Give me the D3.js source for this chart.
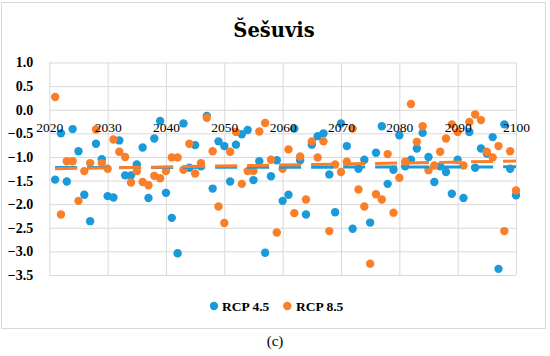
<!DOCTYPE html>
<html><head><meta charset="utf-8">
<script src="https://cdn.jsdelivr.net/npm/d3@7"></script>
<style>
html,body{margin:0;padding:0;background:#fff;}
svg{display:block;}
</style></head>
<body><svg id="c" width="550" height="356"></svg>
<script>
const title = "Šešuvis";
const caption = "(c)";
const seriesNames = ["RCP 4.5", "RCP 8.5"];
const years = d3.range(2021, 2101);
const xTicks = [2020, 2030, 2040, 2050, 2060, 2070, 2080, 2090, 2100];
const yTicks = [1.0, 0.5, 0.0, -0.5, -1.0, -1.5, -2.0, -2.5, -3.0, -3.5];
const rcp45 = [-1.48,-0.50,-1.52,-0.41,-0.88,-1.80,-2.36,-0.72,-1.05,-1.83,
 -1.86,-0.65,-1.39,-1.39,-1.16,-0.80,-1.87,-0.61,-0.24,-1.76,
 -2.29,-3.04,-0.29,-1.23,-0.75,-1.20,-0.13,-1.67,-0.67,-0.77,
 -1.52,-0.74,-0.52,-0.43,-1.49,-1.09,-3.03,-1.41,-1.07,-1.93,
 -1.80,-0.40,-1.07,-2.22,-0.74,-0.56,-0.50,-1.37,-2.17,-0.29,
 -0.77,-2.52,-1.25,-1.06,-2.39,-0.91,-0.35,-1.57,-1.27,-0.54,
 -1.20,-1.06,-0.82,-0.49,-1.00,-1.53,-1.20,-1.32,-1.78,-1.06,
 -1.87,-0.47,-1.23,-0.82,-0.93,-0.58,-3.37,-0.31,-1.25,-1.81];
const rcp85 = [0.27,-2.22,-1.09,-1.09,-1.93,-1.30,-1.13,-0.42,-1.13,-1.25,
 -0.63,-0.89,-1.00,-1.54,-1.30,-1.53,-1.60,-1.40,-1.45,-1.30,
 -1.01,-1.01,-1.27,-0.72,-1.35,-1.13,-0.17,-0.88,-2.05,-2.40,
 -0.89,-0.47,-1.57,-1.30,-1.30,-0.46,-0.28,-1.06,-2.60,-1.25,
 -0.84,-2.19,-0.99,-1.90,-0.67,-1.01,-0.67,-2.57,-1.16,-1.32,
 -1.10,-0.40,-1.69,-2.05,-3.26,-1.79,-1.90,-0.94,-2.18,-1.44,
 -1.10,0.12,-0.68,-0.35,-1.28,-1.18,-0.89,-0.61,-0.31,-0.47,
 -1.18,-0.26,-0.10,-0.22,-0.89,-1.01,-0.77,-2.57,-0.88,-1.71];

const colors = ["#1b9ad9", "#fb7e29"];
const svg = d3.select("#c");
const SERIF = '"Liberation Serif", serif';
const TSERIF = '"DejaVu Serif", "Liberation Serif", serif';

svg.append("rect").attr("x",1.5).attr("y",2.5).attr("width",544).attr("height",326)
  .attr("fill","#fff").attr("stroke","#d9d9d9").attr("stroke-width",1);

const L = 49.3, R = 516, T = 62.5, B = 275;
const x = d3.scaleLinear().domain([2020, 2100]).range([L, R]);
const y = d3.scaleLinear().domain([-3.5, 1]).range([B, T]);

const gridY = svg.append("g").attr("transform",`translate(${L},0)`)
  .call(d3.axisLeft(y).tickValues(yTicks).tickSize(-(R-L)).tickFormat(""));
const gridX = svg.append("g").attr("transform",`translate(0,${B})`)
  .call(d3.axisBottom(x).tickValues(xTicks).tickSize(-(B-T)).tickFormat(""));
[gridX, gridY].forEach(g => {
  g.select(".domain").remove();
  g.selectAll("line").attr("stroke","#d9d9d9").attr("stroke-width",1);
});

const yAx = svg.append("g").attr("transform",`translate(${L},0)`)
  .call(d3.axisLeft(y).tickValues(yTicks).tickSize(0).tickPadding(16).tickFormat(d3.format(".1f")));
yAx.attr("font-family", null);
yAx.select(".domain").remove();
yAx.selectAll("text").style("font-family", SERIF).style("font-size","14px")
  .style("font-weight","bold").attr("fill","#000");

const sets = [rcp45, rcp85];
sets.forEach((vals, i) => {
  svg.append("g").selectAll("circle").data(vals).join("circle")
    .attr("cx", (d, j) => x(years[j])).attr("cy", d => y(d)).attr("r", 4.2)
    .attr("fill", colors[i]);
});

function fit(vals) {
  const n = vals.length;
  const mx = d3.mean(years), my = d3.mean(vals);
  let sxy = 0, sxx = 0;
  for (let k = 0; k < n; k++) { sxy += (years[k]-mx)*(vals[k]-my); sxx += (years[k]-mx)**2; }
  const b = sxy / sxx, a = my - b*mx;
  return t => a + b*t;
}
sets.forEach((vals, i) => {
  const f = fit(vals);
  const x0 = years[0], x1 = years[years.length-1];
  svg.append("line").attr("x1", x(x0)).attr("y1", y(f(x0))).attr("x2", x(x1)).attr("y2", y(f(x1)))
    .attr("stroke", colors[i]).attr("stroke-width", 3).attr("stroke-dasharray", "22,10");
});

const xAx = svg.append("g").attr("transform",`translate(0,${y(0)})`)
  .call(d3.axisBottom(x).tickValues(xTicks).tickSize(0).tickPadding(13).tickFormat(d3.format("d")));
xAx.attr("font-family", null);
xAx.select(".domain").remove();
xAx.selectAll("text").style("font-family", SERIF).style("font-size","13.5px").attr("fill","#000");

svg.append("text").attr("x", 274).attr("y", 36.5).attr("text-anchor","middle")
  .style("font-family", TSERIF).style("font-size","19.5px").style("font-weight","bold").text(title);

const lg = [{x:214, tx:222}, {x:287.3, tx:296}];
seriesNames.forEach((nm, i) => {
  svg.append("circle").attr("cx", lg[i].x).attr("cy", 306).attr("r", 4.2).attr("fill", colors[i]);
  svg.append("text").attr("x", lg[i].tx).attr("y", 310.5)
    .style("font-family", SERIF).style("font-size","13.5px").style("font-weight","bold").text(nm);
});

svg.append("text").attr("x", 275).attr("y", 346).attr("text-anchor","middle")
  .style("font-family", SERIF).style("font-size","15px").text(caption);
</script></body></html>
